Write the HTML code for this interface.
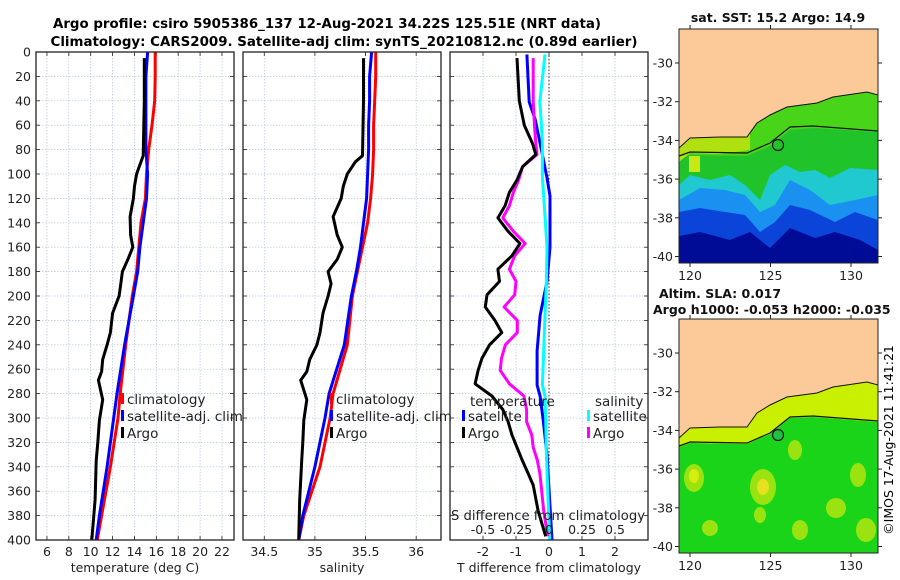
<!DOCTYPE html>
<html><head><meta charset="utf-8"><style>
html,body{margin:0;padding:0;background:#fff;}
svg{display:block;font-family:"DejaVu Sans","Liberation Sans",sans-serif;}
</style></head><body>
<svg id="fig" width="900" height="580" viewBox="0 0 900 580" xmlns="http://www.w3.org/2000/svg">
<text x="327" y="28" font-size="13" font-weight="bold" text-anchor="middle" textLength="548" lengthAdjust="spacingAndGlyphs">Argo profile: csiro 5905386_137 12-Aug-2021 34.22S 125.51E (NRT data)</text>
<text x="344" y="46" font-size="13" font-weight="bold" text-anchor="middle" textLength="587" lengthAdjust="spacingAndGlyphs">Climatology: CARS2009. Satellite-adj clim: synTS_20210812.nc (0.89d earlier)</text>
<g id="p1"></g>
<g id="p2"></g>
<g id="p3"></g>
<g id="m1"></g>
<g id="m2"></g>
<text transform="translate(893,440) rotate(-90)" font-size="12.5" text-anchor="middle">©IMOS 17-Aug-2021 11:41:21</text>
</svg>
<script>
// ---------- data ----------
const depthTicks = [0,20,40,60,80,100,120,140,160,180,200,220,240,260,280,300,320,340,360,380,400];
const tempTicks = [6,8,10,12,14,16,18,20,22];
const salTicks = [34.5,35,35.5,36];
const tdiffTicks = [-2,-1,0,1,2];
const sdiffTicks = [-0.5,-0.25,0,0.25,0.5];
const sdiffLabels = ["-0.5","-0.25","0","0.25","0.5"];

const climDepth = [0,20,40,60,80,100,120,140,160,180,200,240,280,300,340,380,400];
const climTemp  = [15.9,15.9,15.85,15.6,15.3,15.1,15.0,14.6,14.4,14.2,13.8,13.2,12.7,12.5,11.8,11.0,10.6];
const satTemp   = [15.2,15.05,15.05,15.05,15.05,15.2,15.1,14.8,14.5,14.3,13.9,13.1,12.4,12.1,11.5,10.8,10.5];
const climSal   = [35.60,35.60,35.59,35.58,35.58,35.57,35.55,35.52,35.47,35.42,35.37,35.32,35.18,35.15,35.05,34.89,34.84];
const satSal    = [35.56,35.54,35.54,35.53,35.53,35.52,35.51,35.48,35.45,35.41,35.36,35.29,35.14,35.10,35.00,34.88,34.84];

const argoDepth = [5,40,85,90,100,110,120,135,150,160,170,180,190,200,214,230,240,252,262,269,285,302,320,335,367,400];
const argoTemp  = [14.9,14.9,14.8,14.6,14.2,14.0,13.9,13.6,13.65,13.85,13.4,12.9,12.75,12.6,12.0,11.8,11.5,11.1,11.0,10.7,11.1,10.8,10.65,10.5,10.4,10.1];
const argoSal   = [35.48,35.48,35.47,35.40,35.32,35.28,35.26,35.18,35.22,35.27,35.22,35.13,35.16,35.13,35.08,35.05,35.02,34.95,34.92,34.86,34.92,34.89,34.88,34.87,34.85,34.84];

const diffDepth = [5,40,60,75,84,94,105,115,126,136,147,157,167,178,188,199,209,220,230,240,251,261,272,282,293,303,314,324,334,345,355,376,397];
const argoTdiff = [-0.97,-0.9,-0.75,-0.5,-0.4,-0.8,-0.97,-1.2,-1.33,-1.55,-1.24,-0.88,-1.12,-1.55,-1.5,-1.88,-1.93,-1.64,-1.43,-1.8,-2.03,-2.15,-2.24,-1.73,-1.4,-1.24,-1.12,-0.97,-0.82,-0.64,-0.48,-0.33,-0.1];
const argoSdiff = [-0.12,-0.12,-0.11,-0.1,-0.09,-0.2,-0.23,-0.27,-0.3,-0.35,-0.27,-0.18,-0.26,-0.3,-0.25,-0.26,-0.34,-0.24,-0.24,-0.33,-0.36,-0.37,-0.3,-0.19,-0.17,-0.17,-0.13,-0.12,-0.09,-0.07,-0.06,-0.04,-0.01];
const satDiffDepth = [2,41,55,75,103,118,160,188,216,245,273,282,301,330,358,400];
const satTdiff  = [-0.67,-0.6,-0.42,-0.27,-0.06,0.03,0.03,-0.06,-0.27,-0.36,-0.36,-0.27,-0.18,-0.06,0.0,0.09];
const satSdiff  = [-0.03,-0.07,-0.06,-0.05,-0.05,-0.04,-0.015,-0.02,-0.03,-0.04,-0.05,-0.03,-0.025,-0.02,-0.01,0.005];

const mapLatTicks = [-30,-32,-34,-36,-38,-40];
const mapLonTicks = [120,125,130];

// ---------- helpers ----------
const NS="http://www.w3.org/2000/svg";
function mk(parent, tag, attrs, text){const e=document.createElementNS(NS,tag);for(const k in attrs)e.setAttribute(k,attrs[k]);if(text!==undefined)e.textContent=text;parent.appendChild(e);return e;}
const Y0=52, Y1=540;
const yD = d => Y0 + d/400*(Y1-Y0);

function panel(g, x0, x1, xmin, xmax, ticks, labels, xlabel, leftLabels){
  const sx = v => x0 + (v-xmin)/(xmax-xmin)*(x1-x0);
  depthTicks.forEach(d=>{
    const l=mk(g,'line',{x1:x0,x2:x1,y1:yD(d),y2:yD(d),stroke:'#b8c2dc','stroke-width':0.7,'stroke-dasharray':'1.5,1.5'});
    
    
    mk(g,'line',{x1:x0,x2:x0+4,y1:yD(d),y2:yD(d),stroke:'#222','stroke-width':0.8});
    mk(g,'line',{x1:x1-4,x2:x1,y1:yD(d),y2:yD(d),stroke:'#222','stroke-width':0.8});
    if(leftLabels){const t=mk(g,'text',{x:x0-5,y:yD(d)+4.5,'font-size':12.5,'text-anchor':'end',fill:'#222'},String(d));
      
      }
  });
  ticks.forEach((v,i)=>{
    const l=mk(g,'line',{x1:sx(v),x2:sx(v),y1:Y0,y2:Y1,stroke:'#b8c2dc','stroke-width':0.7,'stroke-dasharray':'1.5,1.5'});
    
    
    mk(g,'line',{x1:sx(v),x2:sx(v),y1:Y1,y2:Y1-4,stroke:'#222','stroke-width':0.8});
    mk(g,'line',{x1:sx(v),x2:sx(v),y1:Y0,y2:Y0+4,stroke:'#222','stroke-width':0.8});
    const t=mk(g,'text',{x:sx(v),y:556,'font-size':12.5,'text-anchor':'middle',fill:'#222'},labels[i]);
    
    
  });
  const xl=mk(g,'text',{x:(x0+x1)/2,y:572,'font-size':12.5,'text-anchor':'middle',fill:'#222'},xlabel);
  
  
  return sx;
}
function frame(g,x0,x1){const r=mk(g,'rect',{x:x0,y:Y0,width:x1-x0,height:Y1-Y0,fill:'none',stroke:'#222','stroke-width':1.3});
  
  }
function line(g, xs, ds, sx, color, name){
  const pts = xs.map((v,i)=>sx(v).toFixed(1)+','+yD(ds[i]).toFixed(1)).join(' ');
  const p=mk(g,'polyline',{points:pts,fill:'none',stroke:color,'stroke-width':3,'stroke-linejoin':'round'});
  
  
}
function legend(g,x,y,items){
  items.forEach((it,i)=>{
    const yy=y+i*17;
    mk(g,'rect',{x:x,y:yy-11,width:3,height:11,fill:it[0]});
    const t=mk(g,'text',{x:x+6,y:yy,'font-size':13.5,fill:'#222'},it[1]);
    
    
  });
}

// ---------- panel 1 ----------
const g1=document.getElementById('p1');
const sx1=panel(g1,36,234,5,23.1,tempTicks,tempTicks.map(String),'temperature (deg C)',true);
line(g1,climTemp,climDepth,sx1,'#ff0000','climatology-temp-line');
line(g1,satTemp,climDepth,sx1,'#0000ff','satellite-temp-line');
line(g1,argoTemp,argoDepth,sx1,'#000000','argo-temp-line');
legend(g1,121,404,[['#ff0000','climatology'],['#0000ff','satellite-adj. clim'],['#000','Argo']]);
frame(g1,36,234);

// ---------- panel 2 ----------
const g2=document.getElementById('p2');
const sx2=panel(g2,243,441,34.29,36.245,salTicks,salTicks.map(String),'salinity',false);
line(g2,climSal,climDepth,sx2,'#ff0000','climatology-sal-line');
line(g2,satSal,climDepth,sx2,'#0000ff','satellite-sal-line');
line(g2,argoSal,argoDepth,sx2,'#000000','argo-sal-line');
legend(g2,330,404,[['#ff0000','climatology'],['#0000ff','satellite-adj. clim'],['#000','Argo']]);
frame(g2,243,441);

// ---------- panel 3 ----------
const g3=document.getElementById('p3');
const sx3=panel(g3,450,648,-3,3,tdiffTicks,tdiffTicks.map(String),'T difference from climatology',false);
const sxS = v => sx3(v*4);
mk(g3,'line',{x1:sx3(0),x2:sx3(0),y1:Y0,y2:Y1,stroke:'#333','stroke-width':1,'stroke-dasharray':'1.5,2'});
line(g3,satTdiff,satDiffDepth,sx3,'#0000ff','satellite-tdiff-line');
line(g3,satSdiff,satDiffDepth,sxS,'#00ffff','satellite-sdiff-line');
line(g3,argoSdiff,diffDepth,sxS,'#ff00ff','argo-sdiff-line');
line(g3,argoTdiff,diffDepth,sx3,'#000000','argo-tdiff-line');
{const t=mk(g3,'text',{x:470,y:406,'font-size':13.5,fill:'#222'},'temperature');
 const s=mk(g3,'text',{x:595,y:406,'font-size':13.5,fill:'#222'},'salinity');}
legend(g3,462,421,[['#0000ff','satellite'],['#000','Argo']]);
legend(g3,587,421,[['#00ffff','satellite'],['#ff00ff','Argo']]);
{const t=mk(g3,'text',{x:548,y:520,'font-size':13.5,'text-anchor':'middle',fill:'#222',textLength:194,lengthAdjust:'spacingAndGlyphs'},'S difference from climatology');}
sdiffTicks.forEach((v,i)=>{const t=mk(g3,'text',{x:sxS(v),y:534,'font-size':12.5,'text-anchor':'middle',fill:'#222'},sdiffLabels[i]);
  
  });
frame(g3,450,648);

// ---------- maps ----------
function map(g, top, title1, title2, kind){
  const x0=679,x1=878,y0=top,y1=top+234;
  const lat = v => top+34 + (-30-v)*19.35;
  const lon = v => 690 + (v-120)*16.1;
  const dy = top-29;
  const clip='c'+kind;
  const cp=mk(g,'clipPath',{id:clip});mk(cp,'rect',{x:x0,y:y0,width:x1-x0,height:y1-y0});
  const inner=mk(g,'g',{'clip-path':'url(#'+clip+')'});
  if(kind==='sst'){
    mk(inner,'rect',{x:x0,y:y0,width:199,height:234,fill:'#000c96'});
    mk(inner,'path',{d:`M679 ${y0} H878 V${250+dy} L860 ${240+dy} L835 ${232+dy} L815 ${238+dy} L790 ${228+dy} L770 ${248+dy} L750 ${232+dy} L730 ${240+dy} L700 ${232+dy} L679 ${236+dy} Z`,fill:'#0a44d8'});
    mk(inner,'path',{d:`M679 ${y0} H878 V${220+dy} L855 ${212+dy} L835 ${222+dy} L810 ${210+dy} L790 ${205+dy} L775 ${222+dy} L760 ${232+dy} L745 ${215+dy} L725 ${212+dy} L700 ${208+dy} L679 ${212+dy} Z`,fill:'#1a90f0'});
    mk(inner,'path',{d:`M679 ${y0} H878 V${195+dy} L855 ${200+dy} L830 ${205+dy} L810 ${190+dy} L790 ${180+dy} L775 ${205+dy} L760 ${212+dy} L745 ${195+dy} L725 ${190+dy} L700 ${188+dy} L679 ${200+dy} Z`,fill:'#20c8d0'});
    mk(inner,'path',{d:`M679 ${y0} H878 V${170+dy} L850 ${168+dy} L830 ${178+dy} L815 ${170+dy} L800 ${172+dy} L785 ${165+dy} L770 ${175+dy} L760 ${200+dy} L745 ${185+dy} L730 ${175+dy} L710 ${180+dy} L690 ${175+dy} L679 ${185+dy} Z`,fill:'#20c42a'});
    mk(inner,'path',{d:`M679 ${y0} H878 V${132+dy} L813 ${128+dy} L790 ${130+dy} L770 ${146+dy} L747 ${156+dy} L690 ${155+dy} L679 ${160+dy} Z`,fill:'#48d418'});
    mk(inner,'path',{d:`M679 ${y0} H750 V${150+dy} L720 ${154+dy} L690 ${153+dy} L679 ${162+dy} Z`,fill:'#b0e010'});
    mk(inner,'rect',{x:689,y:156+dy,width:11,height:16,fill:'#c8e818'});
  } else {
    mk(inner,'rect',{x:x0,y:y0,width:199,height:234,fill:'#1ad41a'});
    mk(inner,'path',{d:`M679 ${y0} H878 V${132+dy} L813 ${127+dy} L790 ${128+dy} L770 ${144+dy} L747 ${154+dy} L690 ${153+dy} L679 ${157+dy} Z`,fill:'#c8f000'});
    [[694,188,10,14],[763,197,13,18],[795,160,7,10],[858,185,8,12],[836,218,10,10],[710,238,8,8],[866,240,10,12],[800,240,8,10],[760,225,6,8]].forEach(b=>{
      mk(inner,'ellipse',{cx:b[0],cy:b[1]+dy,rx:b[2],ry:b[3],fill:'#a8e410',opacity:0.9});
    });
    mk(inner,'ellipse',{cx:763,cy:197+dy,rx:6,ry:8,fill:'#e8e020'});
    mk(inner,'ellipse',{cx:694,cy:186+dy,rx:5,ry:7,fill:'#d8ec10'});
  }
  const land=mk(inner,'path',{d:`M679 ${y0} H878 V${95+dy} L867 ${92+dy} L833 ${97+dy} L817 ${103+dy} L787 ${107+dy} L770 ${115+dy} L757 ${123+dy} L747 ${137+dy} L720 ${137+dy} L690 ${138+dy} L679 ${148+dy} Z`,fill:'#fbca98',stroke:'#111','stroke-width':1});
  
  
  const iso=mk(inner,'polyline',{points:`679,${156+dy} 690,${152+dy} 747,${153+dy} 770,${143+dy} 790,${127+dy} 813,${126+dy} 878,${131+dy}`,fill:'none',stroke:'#111','stroke-width':1.2});
  
  
  const c=mk(g,'circle',{cx:778,cy:145+dy,r:5.5,fill:kind==='sla'?'#20c040':'none',stroke:'#111','stroke-width':1.2});
  
  
  const fr=mk(g,'rect',{x:x0,y:y0,width:199,height:234,fill:'none',stroke:'#222','stroke-width':1});
  
  
  mapLatTicks.forEach(v=>{
    mk(g,'line',{x1:x0,x2:x0-4,y1:lat(v),y2:lat(v),stroke:'#222'});
    mk(g,'line',{x1:x1,x2:x1+4,y1:lat(v),y2:lat(v),stroke:'#222'});
    const t=mk(g,'text',{x:x0-6,y:lat(v)+4.5,'font-size':12.5,'text-anchor':'end',fill:'#222'},String(v));
    
    
  });
  mapLonTicks.forEach(v=>{
    mk(g,'line',{x1:lon(v),x2:lon(v),y1:y1,y2:y1+4,stroke:'#222'});
    mk(g,'line',{x1:lon(v),x2:lon(v),y1:y0,y2:y0-4,stroke:'#222'});
    const t=mk(g,'text',{x:lon(v),y:y1+17,'font-size':12.5,'text-anchor':'middle',fill:'#222'},String(v));
    
    
  });
  if(title2){
    const a=mk(g,'text',{x:720,y:top-21,'font-size':12.5,'font-weight':'bold','text-anchor':'middle',fill:'#111'},title1);
    
    const b=mk(g,'text',{x:653,y:top-5,'font-size':12.5,'font-weight':'bold',fill:'#111'},title2);
    
  } else {
    const a=mk(g,'text',{x:778,y:top-7,'font-size':12.5,'font-weight':'bold','text-anchor':'middle',fill:'#111'},title1);
    
  }
}
map(document.getElementById('m1'),29,'sat. SST: 15.2 Argo: 14.9',null,'sst');
map(document.getElementById('m2'),319,'Altim. SLA: 0.017','Argo h1000: -0.053 h2000: -0.035','sla');
</script>
</body></html>
